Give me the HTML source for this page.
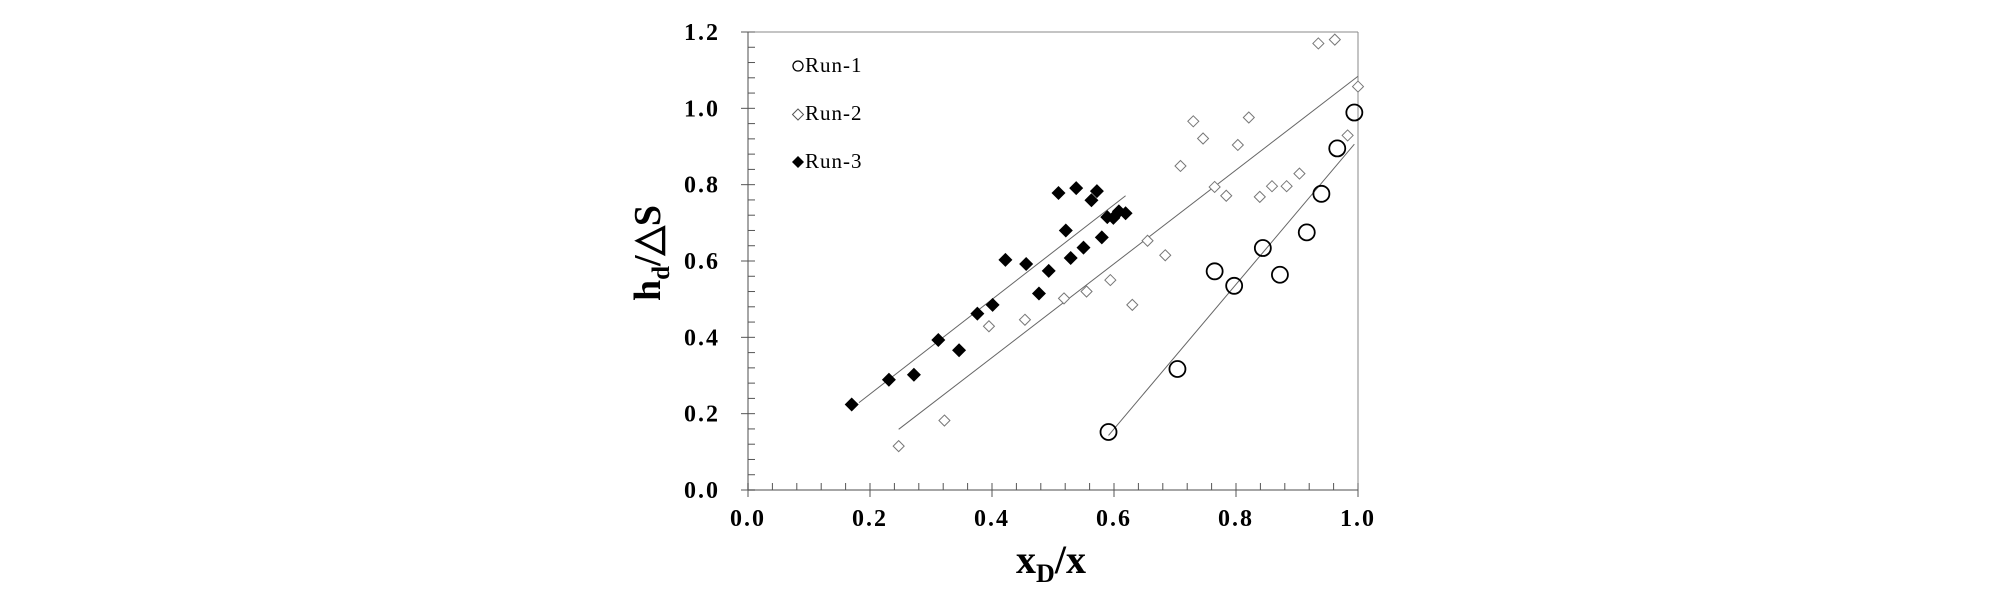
<!DOCTYPE html>
<html><head><meta charset="utf-8"><style>html,body{margin:0;padding:0;background:#fff}svg{display:block}</style></head>
<body>
<svg id="s" width="2008" height="601" xmlns="http://www.w3.org/2000/svg" font-family="Liberation Serif, serif">
<g id="g"></g>
<text x="1051" y="573" font-size="40" font-weight="bold" text-anchor="middle">x<tspan font-size="26" dy="9">D</tspan><tspan dy="-9">/x</tspan></text>
<text transform="translate(660,253) rotate(-90)" font-size="38" font-weight="bold" text-anchor="middle">h<tspan font-size="25" dy="9">d</tspan><tspan dy="-9">/△S</tspan></text>
<circle cx="798" cy="66" r="5" fill="none" stroke="#000" stroke-width="1.3"/>
<polygon points="798,109 803.5,114.5 798,120 792.5,114.5" fill="#fff" stroke="#555"/>
<polygon points="798,156 804,162 798,168 792,162" fill="#000"/>
<text x="805" y="72" font-size="21" letter-spacing="1">Run-1</text>
<text x="805" y="120" font-size="21" letter-spacing="1">Run-2</text>
<text x="805" y="168" font-size="21" letter-spacing="1">Run-3</text>
</svg>
<script>
var X=v=>748+610*v,Y=v=>490-381.67*v,h='';
h+='<line x1="748" y1="490" x2="1358" y2="490" stroke="#888" stroke-width="1.5"/>';
h+='<line x1="748" y1="32" x2="748" y2="490" stroke="#888" stroke-width="1.5"/>';
h+='<line x1="748" y1="32" x2="1358" y2="32" stroke="#888" stroke-width="1"/>';
h+='<line x1="1358" y1="32" x2="1358" y2="490" stroke="#888" stroke-width="1"/>';
for(var i=0;i<=25;i++){var v=i*0.04;if(v>1.001)break;var x=X(v),maj=i%5==0;
h+='<line x1="'+x+'" y1="'+(maj?497:490)+'" x2="'+x+'" y2="483" stroke="#555"/>';
if(maj)h+='<text x="'+x+'" y="526" font-size="24" font-weight="bold" text-anchor="middle" letter-spacing="2">'+v.toFixed(1)+'</text>';}
for(var i=0;i<=30;i++){var v=i*0.04,y=Y(v),maj=i%5==0;
h+='<line x1="'+(maj?741:748)+'" y1="'+y+'" x2="755" y2="'+y+'" stroke="#555"/>';
if(maj)h+='<text x="720" y="'+(y+8)+'" font-size="24" font-weight="bold" text-anchor="end" letter-spacing="2">'+v.toFixed(1)+'</text>';}
function L(a,b,c,d){h+='<line x1="'+X(a)+'" y1="'+Y(b)+'" x2="'+X(c)+'" y2="'+Y(d)+'" stroke="#666" stroke-width="1"/>';}
L(0.182,0.229,0.619,0.771);L(0.247,0.159,1.0,1.084);L(0.591,0.143,0.994,0.906);
var r3=[[.170,.224],[.231,.289],[.272,.302],[.312,.393],[.346,.366],[.376,.462],[.401,.485],[.422,.603],[.456,.592],[.477,.515],[.493,.574],[.509,.778],[.521,.680],[.529,.608],[.538,.791],[.550,.635],[.563,.759],[.572,.783],[.580,.662],[.589,.715],[.599,.713],[.608,.730],[.619,.725]];
var r2=[[.247,.115],[.322,.182],[.395,.429],[.454,.446],[.518,.502],[.555,.520],[.594,.550],[.630,.485],[.655,.653],[.684,.615],[.709,.849],[.730,.966],[.746,.921],[.765,.794],[.784,.771],[.803,.904],[.821,.976],[.839,.768],[.859,.796],[.883,.796],[.904,.829],[.935,1.170],[.962,1.180],[.983,.929],[1.0,1.057]];
var r1=[[.591,.152],[.704,.317],[.765,.573],[.797,.535],[.844,.634],[.872,.564],[.916,.675],[.940,.776],[.966,.895],[.994,.989]];
r2.forEach(p=>{var x=X(p[0]),y=Y(p[1]),s=5.5;h+='<polygon points="'+x+','+(y-s)+' '+(x+s)+','+y+' '+x+','+(y+s)+' '+(x-s)+','+y+'" fill="#fff" stroke="#777" stroke-width="1"/>';});
r3.forEach(p=>{var x=X(p[0]),y=Y(p[1]),s=7;h+='<polygon points="'+x+','+(y-s)+' '+(x+s)+','+y+' '+x+','+(y+s)+' '+(x-s)+','+y+'" fill="#000"/>';});
r1.forEach(p=>{h+='<circle cx="'+X(p[0])+'" cy="'+Y(p[1])+'" r="8" fill="none" stroke="#000" stroke-width="1.8"/>';});
document.getElementById('g').innerHTML=h;
</script>
</body></html>
